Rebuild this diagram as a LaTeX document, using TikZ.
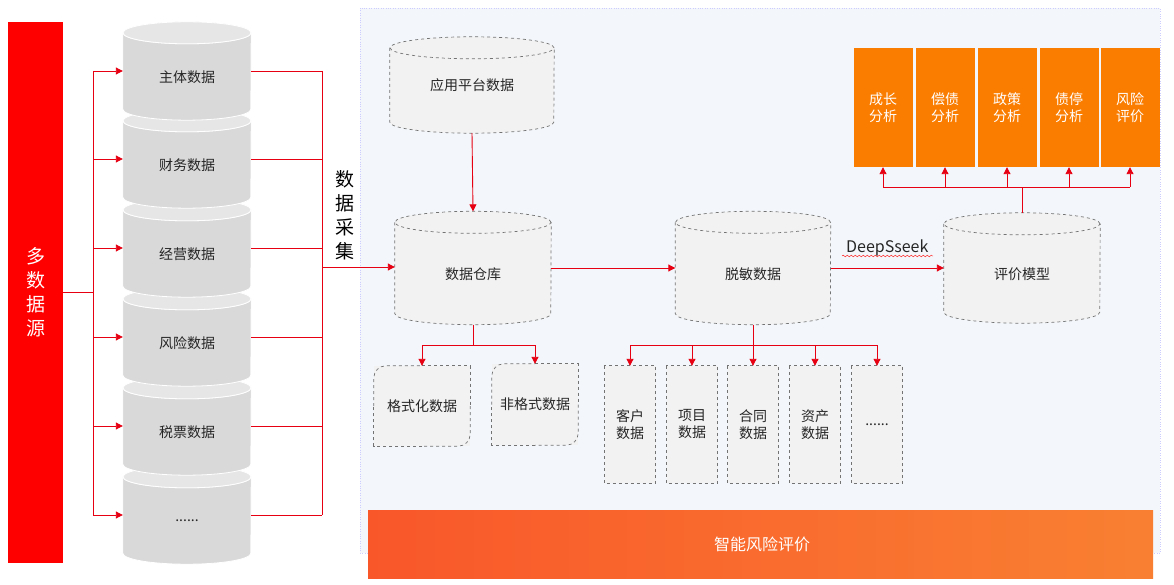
\documentclass[tikz,border=0pt]{standalone}
\usepackage{fontspec}
\setmainfont{Noto Sans CJK SC}
\usetikzlibrary{arrows.meta,calc,decorations.pathmorphing}
\definecolor{lred}{HTML}{E60012}
\definecolor{barred}{HTML}{FF0000}
\definecolor{cylgray}{HTML}{D9D9D9}
\definecolor{cyltop}{HTML}{E6E6E6}
\definecolor{boxgray}{HTML}{F2F2F2}
\definecolor{panel}{HTML}{F3F6FA}
\definecolor{evalor}{HTML}{FA7D00}
\tikzset{
  link/.style={lred,line width=0.9pt},
  arr/.style={link,-{Triangle[length=7pt,width=7pt]}},
  txt/.style={font=\fontsize{14}{17}\selectfont,text=black!85,align=center},
  dbox/.style={draw=black!55,dashed,line width=0.7pt},
  tag/.style={fill=evalor,minimum width=59,minimum height=119,inner sep=0,
    text=white,font=\fontsize{14}{17}\selectfont,align=center},
}
% cylinder: name, centre, width, height, fill, border
\newcommand{\drum}[6]{%
  \node[minimum width=#3,minimum height=#4,inner sep=0] (#1) at (#2) {};
  \path[fill=#5] ([yshift=-11pt]#1.north west) -- ([yshift=11pt]#1.south west)
    arc[start angle=180,end angle=360,x radius=0.5*#3pt,y radius=11pt]
    -- ([yshift=-11pt]#1.north east)
    arc[start angle=0,end angle=180,x radius=0.5*#3pt,y radius=11pt] -- cycle;
  \draw[#6] ([yshift=-11pt]#1.north west) -- ([yshift=11pt]#1.south west)
    arc[start angle=180,end angle=360,x radius=0.5*#3pt,y radius=11pt]
    -- ([yshift=-11pt]#1.north east);
  \draw[#6] ([yshift=-11pt]#1.north) ellipse[x radius=0.5*#3pt,y radius=11pt];
}
\begin{document}
\begin{tikzpicture}[x=1pt,y=-1pt]
\useasboundingbox (0,0) rectangle (1174,585);
% panel
\fill[panel] (360,8) rectangle (1160,553);
\draw[blue!20,dotted] (360,8) rectangle (1160,553);
\shade[left color={rgb,255:red,249;green,87;blue,42},right color={rgb,255:red,249;green,128;blue,50}] (368,510) rectangle (1153,578);
\node[text=white,font=\fontsize{16}{19}\selectfont] (smart) at (762,544) {智能风险评价};
% sources
\node[fill=barred,minimum width=55,minimum height=541,inner sep=0,text=white,
  font=\fontsize{19}{24}\selectfont,align=center] (src) at (35.5,292.5) {多\\数\\据\\源};
\foreach \n/\y in {s6/515,s5/426,s4/337,s3/248,s2/159,s1/71}{
  \drum{\n}{187,\y}{128}{98}{cylgray}{white,line width=0.8pt}
  \fill[cyltop,draw=white,line width=0.8pt] ([yshift=-11pt]\n.north) ellipse[x radius=64pt,y radius=11pt];
}
\foreach \n/\lbl in {s1/主体数据,s2/财务数据,s3/经营数据,s4/风险数据,s5/税票数据,s6/{......}}
  \node[txt] at ([yshift=-6]\n.center) {\lbl};
\coordinate (lbus) at (93,292);
\coordinate (rbus) at (322,267);
\draw[link] (src.east |- lbus) -- (lbus);
\draw[link] (lbus |- s1.west) -- (lbus |- s6.west);
\draw[link] (rbus |- s1.east) -- (rbus |- s6.east);
\foreach \n in {s1,s2,s3,s4,s5,s6}{
  \draw[arr] (lbus |- \n.west) -- (\n.west);
  \draw[link] (\n.east) -- (rbus |- \n.east);
}
\node[font=\fontsize{19}{24}\selectfont,align=center] (collect) at (345,215) {数\\据\\采\\集};
% warehouse part
\drum{app}{472,85}{164}{96}{boxgray}{dbox}
\node[txt] at (app.center) {应用平台数据};
\drum{dw}{473,268}{156}{113}{boxgray}{dbox}
\node[txt] at ([yshift=-6]dw.center) {数据仓库};
\drum{mask}{753,268}{155}{113}{boxgray}{dbox}
\node[txt] at ([yshift=-6]mask.center) {脱敏数据};
\drum{model}{1022,268}{156}{110}{boxgray}{dbox}
\node[txt] at ([yshift=-6]model.center) {评价模型};
\draw[arr] (rbus) -- (dw.west |- rbus);
\draw[arr] (app.south) -- (dw.north);
\draw[arr] (dw.east) -- (mask.west);
\draw[arr] (mask.east) -- node[above=8pt,font=\fontsize{16}{19}\selectfont,text=black!85] (ds) {DeepSseek} (model.west |- mask.east);
\draw[red,decorate,decoration={snake,amplitude=0.8pt,segment length=4pt}] (842,256) -- (933,256);
% formatted boxes
\node[txt,fill=boxgray,minimum width=96,minimum height=80,inner sep=0] (fmt) at (422,406) {格式化数据};
\node[txt,fill=boxgray,minimum width=86,minimum height=81,inner sep=0] (raw) at (535,404.5) {非格式数据};
\foreach \b in {fmt,raw}{
  \draw[dbox,rounded corners=12pt] (\b.west) |- (\b.north);
  \draw[dbox] (\b.north) -| (\b.east);
  \draw[dbox,rounded corners=12pt] (\b.east) |- (\b.south);
  \draw[dbox] (\b.south) -| (\b.west);
}
\coordinate (dwj) at (473,345);
\draw[link] (dw.south) -- (dwj);
\draw[link] (fmt.north |- dwj) -- (raw.north |- dwj);
\draw[arr] (fmt.north |- dwj) -- (fmt.north);
\draw[arr] (raw.north |- dwj) -- (raw.north);
% masked data boxes
\foreach \n/\x/\lbl in {cu/630/客户\\数据,pr/692/项目\\数据,co/753/合同\\数据,as/815/资产\\数据,mo/877/{......}}
  \node[txt,fill=boxgray,minimum width=51,minimum height=117,inner sep=0] (\n) at (\x,424.5) {\lbl};
\foreach \n in {cu,pr,co,as,mo}
  \draw[dbox] (\n.north west) rectangle (\n.south east);
\coordinate (mj) at (753,345);
\draw[link] (mask.south) -- (mj);
\draw[link] (cu.north |- mj) -- (mo.north |- mj);
\foreach \n in {cu,pr,co,as,mo}
  \draw[arr] (\n.north |- mj) -- (\n.north);
% evaluation tags
\foreach \n/\x/\lbl in {t1/883/成长\\分析,t2/945/偿债\\分析,t3/1007/政策\\分析,t4/1069/债停\\分析,t5/1130/风险\\评价}
  \node[tag] (\n) at (\x,107.5) {\lbl};
\coordinate (tj) at (1022,187);
\draw[link] (model.north) -- (tj);
\draw[link] (t1.south |- tj) -- (t5.south |- tj);
\foreach \n in {t1,t2,t3,t4,t5}
  \draw[arr] (\n.south |- tj) -- (\n.south);
\end{tikzpicture}
\end{document}
